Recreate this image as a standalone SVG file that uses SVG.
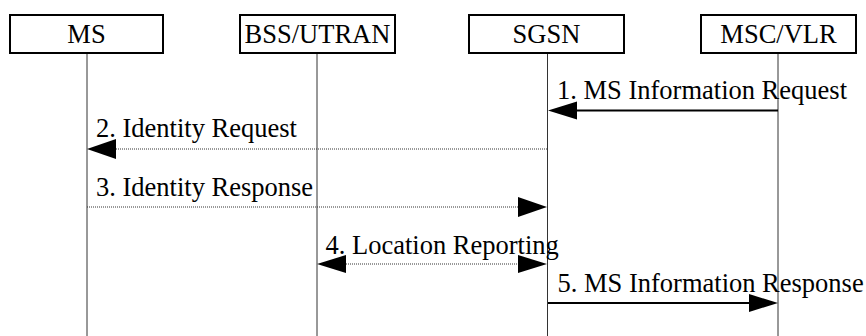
<svg xmlns="http://www.w3.org/2000/svg" width="866" height="336" viewBox="0 0 866 336">
<style>
.box{fill:#fff;stroke:#000;stroke-width:2}
.life{stroke:#333;stroke-width:1}
.t{font-family:"Liberation Serif",serif;font-size:26.5px;fill:#000}
.c{text-anchor:middle}
.solid{stroke:#000;stroke-width:2;fill:none}
.dot{stroke:#333;stroke-width:1;stroke-dasharray:1,1;fill:none}
.head{fill:#000}
</style>
<rect width="866" height="336" fill="#fff"/>
<g id="MS">
<line class="life" x1="87" y1="53" x2="87" y2="336"/>
<rect class="box" x="10" y="15" width="153" height="38"/>
<text class="t c" x="86.5" y="43">MS</text>
</g>
<g id="BSS_UTRAN">
<line class="life" x1="317" y1="53" x2="317" y2="336"/>
<rect class="box" x="240" y="15" width="155" height="38"/>
<text class="t c" x="317.5" y="43">BSS/UTRAN</text>
</g>
<g id="SGSN">
<line class="life" x1="547.5" y1="53" x2="547.5" y2="336"/>
<rect class="box" x="469" y="15" width="155" height="38"/>
<text class="t c" x="546.5" y="43">SGSN</text>
</g>
<g id="MSC_VLR">
<line class="life" x1="778" y1="53" x2="778" y2="336"/>
<rect class="box" x="701" y="15" width="155" height="38"/>
<text class="t c" x="778.5" y="43">MSC/VLR</text>
</g>
<g id="connectors">
<line class="solid" x1="778" y1="110.5" x2="576" y2="110.5"/>
<polygon class="head" points="548,110.5 577,101.5 577,119.5"/>
<text class="t" x="557" y="99">1. MS Information Request</text>
<line class="dot" x1="547" y1="149" x2="115" y2="149"/>
<polygon class="head" points="87,149 116,139 116,159"/>
<text class="t" x="96" y="137">2. Identity Request</text>
<line class="dot" x1="87" y1="207" x2="519" y2="207"/>
<polygon class="head" points="547,207 518,197 518,217"/>
<text class="t" x="96" y="196">3. Identity Response</text>
<line class="dot" x1="346" y1="264" x2="519" y2="264"/>
<polygon class="head" points="317,264 346,255 346,273"/>
<polygon class="head" points="547,264 518,255 518,273"/>
<text class="t" x="325.5" y="254">4. Location Reporting</text>
<line class="solid" x1="548" y1="303" x2="750" y2="303"/>
<polygon class="head" points="778,303 749,294 749,312"/>
<text class="t" x="557.5" y="292">5. MS Information Response</text>
</g>
</svg>
